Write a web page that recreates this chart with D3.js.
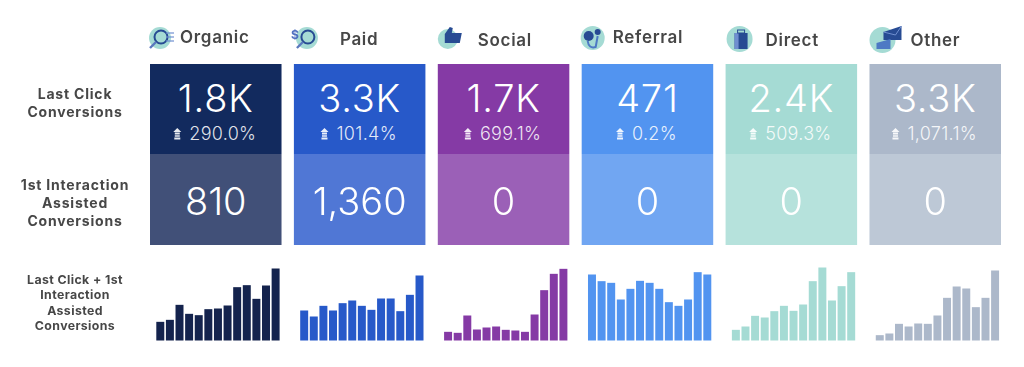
<!DOCTYPE html>
<html>
<head>
<meta charset="utf-8">
<script src="https://cdn.jsdelivr.net/npm/d3@7"></script>
<style>
  html, body { margin: 0; padding: 0; background: #fff; }
  svg { display: block; font-family: Inter, "Open Sans", sans-serif; filter: blur(0.45px); }
</style>
</head>
<body>
<div id="container"></div>
<script>
var channels = ['Organic', 'Paid', 'Social', 'Referral', 'Direct', 'Other'];
var lastClick = ['1.8K', '3.3K', '1.7K', '471', '2.4K', '3.3K'];
var lastClickChange = ['290.0%', '101.4%', '699.1%', '0.2%', '509.3%', '1,071.1%'];
var assisted = ['810', '1,360', '0', '0', '0', '0'];

var organicBars = [56, 62, 107, 80, 76, 94, 96, 105, 160, 166, 125, 165, 216];
var paidBars = [90, 72, 104, 90, 112, 120, 104, 92, 126, 126, 88, 137, 195];
var socialBars = [26, 23, 75, 33, 39, 42, 32, 30, 26, 78, 151, 200, 215];
var referralBars = [198, 178, 173, 123, 155, 179, 173, 155, 115, 104, 123, 205, 198];
var directBars = [32, 42, 74, 69, 88, 104, 89, 108, 178, 219, 120, 163, 205];
var otherBars = [16, 21, 50, 42, 51, 50, 75, 128, 162, 156, 100, 128, 210];
var allBars = [organicBars, paidBars, socialBars, referralBars, directBars, otherBars];

var topColors = ['#122a5e', '#2759c9', '#853aa5', '#5294f0', '#a5dbd4', '#acb8ca'];
var midColors = ['#415078', '#5077d5', '#9b60b7', '#71a6f2', '#b6e2dc', '#bdc8d6'];
var barColors = ['#14234d', '#2759c9', '#853aa5', '#5294f0', '#a5dbd4', '#acb8ca'];

var width = 1024,
    height = 367,
    row1Top = 64,
    row2Top = 154,
    row2Bottom = 245,
    baseline = 340.5,
    svg;

// header text sits a little differently in each column
var headerX = [30, 46, 40, 31, 40, 41],
    headerY = [43, 45, 46, 43, 46, 46],
    iconX = [10, 13, 10, 11, 14, 13],
    iconY = [38, 38, 39, 38, 39, 40],
    iconR = [11, 11, 10, 12, 13, 13];

var x = d3.scaleBand().domain(channels).range([150, 1001]).paddingInner(0.086);
var barY = d3.scaleLinear().domain([0, 219]).range([0, 73]);
var barX = d3.scaleBand().domain(d3.range(13)).range([6.3, 129.6]).paddingInner(0.17);

function createSvg() {
    svg = d3.select('#container')
        .append('svg')
        .attr('width', width)
        .attr('height', height);
}

function renderRowLabels() {
    var rows = [
        { lines: ['Last Click', 'Conversions'], y: 99, step: 18, size: 14, spacing: 0.8 },
        { lines: ['1st Interaction', 'Assisted', 'Conversions'], y: 190, step: 18, size: 14, spacing: 0.8 },
        { lines: ['Last Click + 1st', 'Interaction', 'Assisted', 'Conversions'], y: 284, step: 15.4, size: 12.3, spacing: 0.4 }
    ];
    rows.forEach(function(r) {
        svg.append('g').selectAll('text')
            .data(r.lines)
            .join('text')
            .attr('x', 75)
            .attr('y', function(d, i) { return r.y + i * r.step; })
            .attr('text-anchor', 'middle')
            .attr('font-size', r.size)
            .attr('font-weight', 700)
            .attr('letter-spacing', r.spacing)
            .attr('fill', '#474747')
            .text(function(d) { return d; });
    });
}

// rough versions of the little channel icons
function renderIcon(g, i) {
    var dark = '#274b93';
    g.append('circle').attr('r', iconR[i]).attr('fill', '#a5dbd4');
    if (i === 0 || i === 1) {
        g.append('circle').attr('r', 6.5).attr('cx', 1).attr('cy', -1)
            .attr('fill', 'none').attr('stroke', dark).attr('stroke-width', 2);
        g.append('line').attr('x1', -4).attr('y1', 4).attr('x2', -10).attr('y2', 10)
            .attr('stroke', '#5a78bd').attr('stroke-width', 2.4);
        if (i === 0) {
            [-5, -1, 3].forEach(function(d) {
                g.append('line').attr('x1', 6).attr('x2', 14).attr('y1', d).attr('y2', d)
                    .attr('stroke', '#6f8fd0').attr('stroke-width', 1.2);
            });
        } else {
            g.append('text').attr('x', -12).attr('y', 1).attr('text-anchor', 'middle')
                .attr('font-size', 12).attr('font-weight', 700).attr('fill', '#4f6fc0').text('$');
        }
    } else if (i === 2) {
        g.append('path').attr('d', 'M-3,-5 L2,-12 L5,-11 L4,-6 L14,-6 L12,4 L-3,4 Z').attr('fill', dark);
    } else if (i === 3) {
        g.append('circle').attr('cx', -4).attr('cy', -2).attr('r', 5).attr('fill', dark);
        g.append('circle').attr('cx', 5).attr('cy', -6).attr('r', 3).attr('fill', dark);
        g.append('path').attr('d', 'M-5,3 Q-4,11 3,9 L5,-2').attr('fill', 'none')
            .attr('stroke', '#4d79c4').attr('stroke-width', 2);
    } else if (i === 4) {
        g.append('rect').attr('x', -5).attr('y', -6).attr('width', 13).attr('height', 16).attr('fill', dark);
        g.append('rect').attr('x', -5).attr('y', -6).attr('width', 4).attr('height', 16).attr('fill', '#6f8fd0');
        g.append('rect').attr('x', -2).attr('y', -9).attr('width', 7).attr('height', 3)
            .attr('fill', 'none').attr('stroke', dark);
    } else {
        g.append('path').attr('d', 'M1,-8 L19,-14 L19,0 L1,0 Z').attr('fill', dark);
        g.append('path').attr('d', 'M1,-8 L13,-5 L19,-14').attr('fill', 'none').attr('stroke', '#6f8fd0');
        g.append('path').attr('d', 'M-6,3 L8,-1 L8,9 L-6,9 Z').attr('fill', '#4d79c4');
    }
}

function renderHeaders() {
    var heads = svg.append('g').selectAll('g')
        .data(channels)
        .join('g')
        .attr('transform', function(d) { return 'translate(' + x(d) + ',0)'; });
    heads.append('text')
        .attr('x', function(d, i) { return headerX[i]; })
        .attr('y', function(d, i) { return headerY[i]; })
        .attr('font-size', 17)
        .attr('font-weight', 600)
        .attr('letter-spacing', 0.7)
        .attr('fill', '#474747')
        .text(function(d) { return d; });
    heads.each(function(d, i) {
        var g = d3.select(this).append('g')
            .attr('transform', 'translate(' + iconX[i] + ',' + iconY[i] + ')');
        renderIcon(g, i);
    });
}

function renderCards() {
    var cards = svg.append('g').selectAll('g')
        .data(channels)
        .join('g')
        .attr('transform', function(d) { return 'translate(' + x(d) + ',0)'; });

    cards.append('rect')
        .attr('y', row1Top)
        .attr('width', x.bandwidth())
        .attr('height', row2Top - row1Top)
        .attr('fill', function(d, i) { return topColors[i]; });
    cards.append('rect')
        .attr('y', row2Top)
        .attr('width', x.bandwidth())
        .attr('height', row2Bottom - row2Top)
        .attr('fill', function(d, i) { return midColors[i]; });

    cards.append('text')
        .attr('x', x.bandwidth() / 2)
        .attr('y', 112)
        .attr('text-anchor', 'middle')
        .attr('font-size', 38)
        .attr('font-weight', 300)
        .attr('letter-spacing', 0.8)
        .attr('fill', '#fff')
        .text(function(d, i) { return lastClick[i]; });

    var change = cards.append('text')
        .attr('x', x.bandwidth() / 2 + 7)
        .attr('y', 140)
        .attr('text-anchor', 'middle')
        .attr('font-size', 18)
        .attr('font-weight', 300)
        .attr('letter-spacing', 0.3)
        .attr('fill', '#fff')
        .attr('fill-opacity', 0.88)
        .text(function(d, i) { return lastClickChange[i]; });

    // small striped up arrow in front of the change figure
    cards.each(function(d, i) {
        var w = change.nodes()[i].getComputedTextLength();
        var ax = x.bandwidth() / 2 + 7 - w / 2 - 12;
        d3.select(this).append('path')
            .attr('transform', 'translate(' + ax + ',134)')
            .attr('d', 'M0,-6 L4,-2 L-4,-2 Z M-2.5,-1.5 h5 v2 h-5 Z M-2.5,1.2 h5 v1.6 h-5 Z M-3,3.6 h6 v2 h-6 Z')
            .attr('fill', '#fff')
            .attr('fill-opacity', 0.9);
    });

    cards.append('text')
        .attr('x', x.bandwidth() / 2)
        .attr('y', 214.5)
        .attr('text-anchor', 'middle')
        .attr('font-size', 38)
        .attr('font-weight', 300)
        .attr('fill', '#fff')
        .text(function(d, i) { return assisted[i]; });
}

function renderBars() {
    channels.forEach(function(c, i) {
        svg.append('g')
            .attr('transform', 'translate(' + x(c) + ',0)')
            .selectAll('rect')
            .data(allBars[i])
            .join('rect')
            .attr('x', function(d, j) { return barX(j); })
            .attr('y', function(d) { return baseline - barY(d); })
            .attr('width', barX.bandwidth())
            .attr('height', function(d) { return barY(d); })
            .attr('fill', barColors[i]);
    });
}

createSvg();
renderRowLabels();
renderHeaders();
renderCards();
renderBars();
</script>
</body>
</html>
